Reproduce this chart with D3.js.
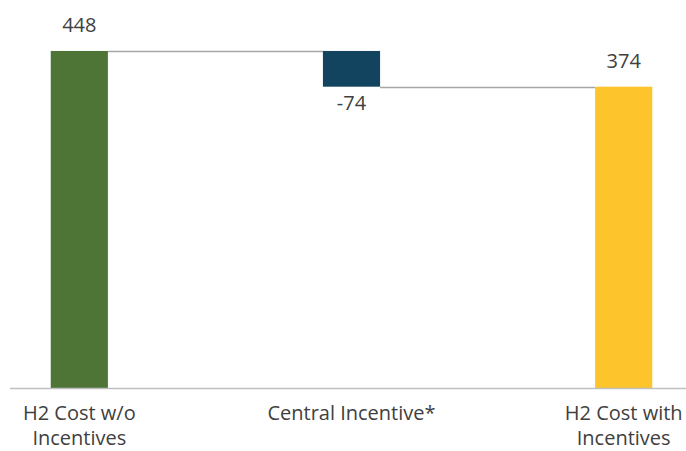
<!DOCTYPE html>
<html>
<head>
<meta charset="utf-8">
<script src="https://cdn.jsdelivr.net/npm/d3@7"></script>
<style>
  body { margin: 0; background: #fff; }
  svg { display: block; font-family: "Open Sans", sans-serif; }
</style>
</head>
<body>
<div id="chart"></div>
<script>
// waterfall data
const categories = ["H2 Cost w/o Incentives", "Central Incentive*", "H2 Cost with Incentives"]
const categoryLines = [["H2 Cost w/o", "Incentives"], ["Central Incentive*"], ["H2 Cost with", "Incentives"]]
const values = [448, -74, 374]
const kinds = ["total", "delta", "total"]
const colors = ["#4f7536", "#124460", "#fdc52b"]

const WIDTH = 686
const HEIGHT = 451

const svg = d3.select("#chart")
  .append("svg")
    .attr("width", WIDTH)
    .attr("height", HEIGHT)

// running totals -> start/end of each bar
let running = 0
const bars = categories.map((c, i) => {
  let start, end
  if (kinds[i] === "total") {
    start = null
    end = values[i]
    running = values[i]
  } else {
    start = running
    end = running + values[i]
    running = end
  }
  return { name: c, lines: categoryLines[i], value: values[i], kind: kinds[i], start, end, color: colors[i] }
})

const x = d3.scaleBand()
  .domain(categories)
  .range([14, 689])
  .paddingInner(0.79)
  .paddingOuter(0.135)

const y = d3.scaleLinear()
  .domain([-250, 450])
  .range([388, 50])

const base = y.domain()[0]

// connectors
svg.selectAll("line.conn")
  .data(bars.slice(0, -1))
  .enter().append("line")
    .attr("class", "conn")
    .attr("x1", d => x(d.name) + x.bandwidth())
    .attr("x2", (d, i) => x(bars[i + 1].name))
    .attr("y1", d => Math.round(y(d.end)) + 0.5)
    .attr("y2", d => Math.round(y(d.end)) + 0.5)
    .attr("stroke", "#a6a6a6")
    .attr("stroke-width", 1.5)

// bars
svg.selectAll("rect")
  .data(bars)
  .enter().append("rect")
    .attr("x", d => x(d.name))
    .attr("width", x.bandwidth())
    .attr("y", d => d.kind === "total" ? y(d.end) : y(Math.max(d.start, d.end)))
    .attr("height", d => d.kind === "total"
      ? y(base) - y(d.end)
      : Math.abs(y(d.start) - y(d.end)))
    .attr("fill", d => d.color)

// baseline
svg.append("line")
  .attr("x1", 10).attr("x2", WIDTH)
  .attr("y1", y(base) + 0.5).attr("y2", y(base) + 0.5)
  .attr("stroke", "#bfbfbf")
  .attr("stroke-width", 1.5)

// value labels
svg.selectAll("text.val")
  .data(bars)
  .enter().append("text")
    .attr("class", "val")
    .attr("x", d => x(d.name) + x.bandwidth() / 2)
    .attr("y", d => d.value < 0 ? y(d.end) + 23 : y(d.end) - 19)
    .attr("text-anchor", "middle")
    .attr("font-size", 20)
    .attr("fill", "#404040")
    .text(d => d.value)

// category labels
const cat = svg.selectAll("text.cat")
  .data(bars)
  .enter().append("text")
    .attr("class", "cat")
    .attr("x", d => x(d.name) + x.bandwidth() / 2)
    .attr("y", 420)
    .attr("text-anchor", "middle")
    .attr("font-size", 20)
    .attr("fill", "#404040")

cat.selectAll("tspan")
  .data(d => d.lines.map(l => ({ l, cx: x(d.name) + x.bandwidth() / 2 })))
  .enter().append("tspan")
    .attr("x", d => d.cx)
    .attr("dy", (d, i) => i === 0 ? 0 : 25)
    .text(d => d.l)
</script>
</body>
</html>
